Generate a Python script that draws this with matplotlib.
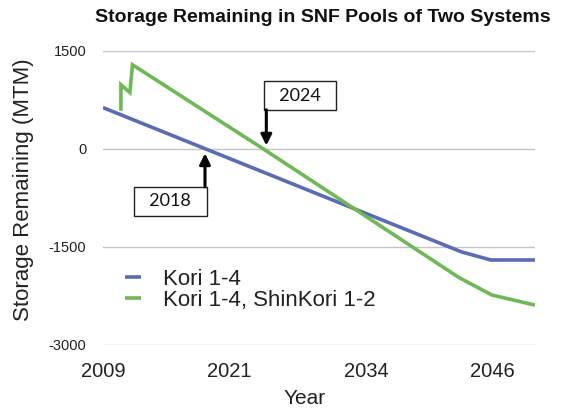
import matplotlib
matplotlib.use("Agg")
import matplotlib.pyplot as plt

# ---- data ----
blue_label = "Kori 1-4"
blue_years = [2009.0, 2043.0, 2045.8, 2050.0]
blue_vals = [630, -1575, -1700, -1700]

green_label = "Kori 1-4, ShinKori 1-2"
green_years = [2010.7, 2010.7, 2011.55, 2011.8, 2024.2, 2042.8, 2045.9, 2050.0]
green_vals = [580, 980, 860, 1285, 0, -1970, -2235, -2390]

x_ticks = [2009, 2021, 2034, 2046]
y_ticks = [-3000, -1500, 0, 1500]

title = "Storage Remaining in SNF Pools of Two Systems"
ylabel = "Storage Remaining (MTM)"
xlabel = "Year"

# annotations: (label, box centre year, box centre value, arrow x, arrow start, arrow tip)
ann_2024 = ("2024", 2027.7, 811, 2024.5, 597, 50)
ann_2018 = ("2018", 2015.4, -803, 2018.68, -582, -70)

blue_c = "#5a6cb4"
green_c = "#6eb955"

plt.rcParams['font.family'] = ['Liberation Sans', 'DejaVu Sans']
plt.rcParams['axes.unicode_minus'] = False

fig = plt.figure(figsize=(5.72, 4.13), dpi=100)
ax = fig.add_axes([103/572, 1-345/413, 432/572, (345-50.7)/413])

ax.plot(blue_years, blue_vals, color=blue_c, lw=2.6, label=blue_label,
        solid_joinstyle='round', solid_capstyle='butt')
ax.plot(green_years, green_vals, color=green_c, lw=2.6, label=green_label,
        solid_joinstyle='miter', solid_capstyle='butt')

ax.set_xlim(2009, 2050)
ax.set_ylim(-3000, 1500)
ax.set_xticks(x_ticks)
ax.set_yticks(y_ticks)
ax.tick_params(axis='x', length=0, pad=12, labelsize=14.5, colors='#222222')
ax.tick_params(axis='y', length=0, pad=12, labelsize=10.5, colors='#222222')
for s in ax.spines.values():
    s.set_visible(False)
ax.yaxis.grid(True, color='#c4c4c4', lw=1.0)
ax.xaxis.grid(False)
ax.set_axisbelow(True)

fig.text(323/572, 1-18/413, title, ha='center', va='center',
         fontsize=14, fontweight='bold', color='#111111')
fig.text(24/572, 1-190/413, ylabel, ha='center', va='center',
         rotation=90, fontsize=16, color='#222222')
fig.text(305/572, 1-399/413, xlabel, ha='center', va='center',
         fontsize=15, color='#222222')

leg = ax.legend(loc='upper left', bbox_to_anchor=(125/572, 1-269/413),
                bbox_transform=fig.transFigure, frameon=False,
                fontsize=16, handlelength=0.7, handletextpad=1.0,
                labelspacing=0.0, borderpad=0, borderaxespad=0)
for t in leg.get_texts():
    t.set_color('#222222')

for lab, bx, by, axx, ay0, ay1 in (ann_2024, ann_2018):
    ax.text(bx, by, "  " + lab + "  ", ha='center', va='center',
            fontsize=13, family=['Lato', 'DejaVu Sans'], color='#111111',
            bbox=dict(boxstyle='square,pad=0.35', fc='white', ec='#222222', lw=1.0),
            zorder=5)
    ax.annotate('', xy=(axx, ay1), xytext=(axx, ay0),
                arrowprops=dict(arrowstyle='-|>', color='black', lw=2.2,
                                mutation_scale=16, shrinkA=0, shrinkB=0),
                zorder=6)

fig.savefig("out.png", dpi=100)
